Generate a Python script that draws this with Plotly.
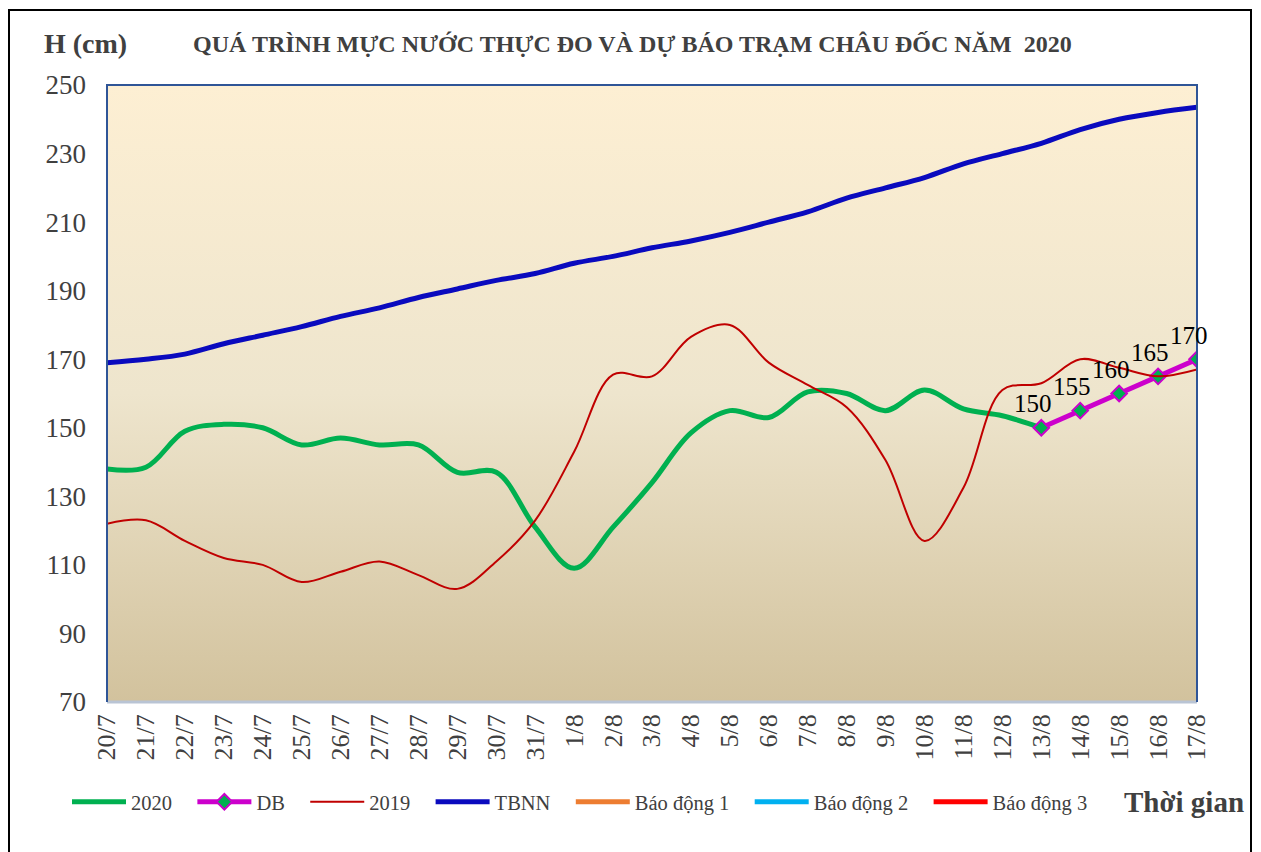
import base64
import plotly.graph_objects as go

# ---------------- data ----------------
dates = ["20/7", "21/7", "22/7", "23/7", "24/7", "25/7", "26/7", "27/7", "28/7", "29/7",
         "30/7", "31/7", "1/8", "2/8", "3/8", "4/8", "5/8", "6/8", "7/8", "8/8",
         "9/8", "10/8", "11/8", "12/8", "13/8", "14/8", "15/8", "16/8", "17/8"]

h2020 = [138, 138.5, 149, 151, 150, 145, 147, 145, 145, 137,
         137, 121, 109, 121, 134, 148.5, 155, 153, 160.5, 160,
         155, 161, 155.5, 153.5, 150, None, None, None, None]

db_dates = ["13/8", "14/8", "15/8", "16/8", "17/8"]
db_values = [150, 155, 160, 165, 170]

h2019 = [122, 123, 117, 112, 110, 105, 108, 111, 107, 103,
         111, 123, 143, 165.5, 165, 176.5, 180, 169, 162.5, 156,
         140.5, 117, 132.5, 161, 163, 170, 167.5, 165, 167]

tbnn = [169, 170, 171.5, 174.5, 177, 179.5, 182.5, 185, 188, 190.5,
        193, 195, 198, 200, 202.5, 204.5, 207, 210, 213, 217,
        220, 223, 227, 230, 233, 237, 240, 242, 243.5]

alarm_names = ["Báo động 1", "Báo động 2", "Báo động 3"]
alarm_colors = ["#ED7D31", "#00B0F0", "#FF0000"]

y_ticks = [70, 90, 110, 130, 150, 170, 190, 210, 230, 250]

TITLE = "QUÁ TRÌNH MỰC NƯỚC THỰC ĐO VÀ DỰ BÁO TRẠM CHÂU ĐỐC NĂM  2020"

# ---------------- figure ----------------
FONT = "Liberation Serif, Times New Roman, serif"
W, H = 1261, 852
OFF = 8  # page body margin
L, R, T, B = 99, 72, 77, 158
pw, ph = W - L - R, H - T - B

def px_x(sx):
    return (sx - OFF - L) / pw

def px_y(sy):
    return (H - B - (sy - OFF)) / ph

PAD = "\u00a0" * 3

fig = go.Figure()

fig.add_trace(go.Scatter(x=dates, y=h2020, name="2020" + PAD, mode="lines",
                         line=dict(color="#00B050", width=5, shape="spline", smoothing=1.0)))
fig.add_trace(go.Scatter(x=db_dates, y=db_values, name="DB" + PAD, mode="lines+markers",
                         line=dict(color="#CC00CC", width=5),
                         marker=dict(symbol="diamond", size=12, color="#00B050",
                                     line=dict(color="#CC00CC", width=2))))
fig.add_trace(go.Scatter(x=dates, y=h2019, name="2019" + PAD, mode="lines",
                         line=dict(color="#C00000", width=2, shape="spline", smoothing=1.0)))
fig.add_trace(go.Scatter(x=dates, y=tbnn, name="TBNN" + PAD, mode="lines",
                         line=dict(color="#0A0ABE", width=5, shape="spline", smoothing=1.0)))
for nm, col in zip(alarm_names, alarm_colors):
    fig.add_trace(go.Scatter(x=dates, y=[None] * len(dates), name=nm + PAD, mode="lines",
                             line=dict(color=col, width=5)))

# data labels for forecast
for d, v in zip(db_dates, db_values):
    fig.add_annotation(x=d, y=v, text=str(v), showarrow=False, xshift=-8, yshift=24,
                       font=dict(family=FONT, size=25, color="#000000"))

# gradient background via svg image
svg = ('<svg xmlns="http://www.w3.org/2000/svg" width="100" height="100" preserveAspectRatio="none">'
       '<defs><linearGradient id="g" x1="0" y1="0" x2="0" y2="1">'
       '<stop offset="0" stop-color="#FDEFD3"/>'
       '<stop offset="0.5" stop-color="#EEE5CD"/>'
       '<stop offset="1" stop-color="#D2C29D"/>'
       '</linearGradient></defs><rect width="100" height="100" fill="url(#g)"/></svg>')
src = "data:image/svg+xml;base64," + base64.b64encode(svg.encode()).decode()
fig.add_layout_image(dict(source=src, xref="paper", yref="paper", x=0, y=1, sizex=1, sizey=1,
                          sizing="stretch", layer="below", xanchor="left", yanchor="top"))

# plot area border
fig.add_shape(type="line", xref="paper", yref="paper", x0=0, x1=1, y0=0, y1=0,
              line=dict(color="#B9C4D4", width=3))
fig.add_shape(type="path", xref="paper", yref="paper", path="M 0,0 L 0,1 L 1,1 L 1,0",
              line=dict(color="#2F5597", width=2))
# outer border
fig.add_shape(type="rect", xref="paper", yref="paper",
              x0=px_x(OFF + 1), x1=px_x(1251), y0=px_y(858), y1=px_y(10),
              line=dict(color="#000000", width=2))

# texts
fig.add_annotation(xref="paper", yref="paper", x=px_x(632), y=px_y(44), text="<b>" + TITLE + "</b>",
                   showarrow=False, xanchor="center", yanchor="middle",
                   font=dict(family=FONT, size=24, color="#404040"))
fig.add_annotation(xref="paper", yref="paper", x=px_x(85), y=px_y(44), text="<b>H (cm)</b>",
                   showarrow=False, xanchor="center", yanchor="middle",
                   font=dict(family=FONT, size=28, color="#404040"))
fig.add_annotation(xref="paper", yref="paper", x=px_x(1184), y=px_y(802), text="<b>Thời gian</b>",
                   showarrow=False, xanchor="center", yanchor="middle",
                   font=dict(family=FONT, size=29, color="#404040"))

fig.update_layout(
    width=W, height=H,
    margin=dict(l=L, r=R, t=T, b=B),
    paper_bgcolor="white",
    plot_bgcolor="rgba(0,0,0,0)",
    font=dict(family=FONT, color="#404040"),
    showlegend=True,
    legend=dict(orientation="h", x=px_x(67), y=px_y(802), xanchor="left", yanchor="middle",
                font=dict(family=FONT, size=20.5, color="#404040"),
                bgcolor="rgba(0,0,0,0)", itemwidth=54, tracegroupgap=0),
    xaxis=dict(type="category", range=[0, len(dates) - 1], tickangle=-90,
               tickfont=dict(family=FONT, size=26, color="#404040"),
               showgrid=False, zeroline=False, showline=False, ticks="",
               ticklabelstandoff=6),
    yaxis=dict(range=[70, 250], tickvals=y_ticks, ticktext=[str(v) for v in y_ticks],
               tickfont=dict(family=FONT, size=27, color="#404040"),
               showgrid=False, zeroline=False, showline=False, ticks="",
               ticklabelstandoff=20),
)

fig.write_html("out.html")
